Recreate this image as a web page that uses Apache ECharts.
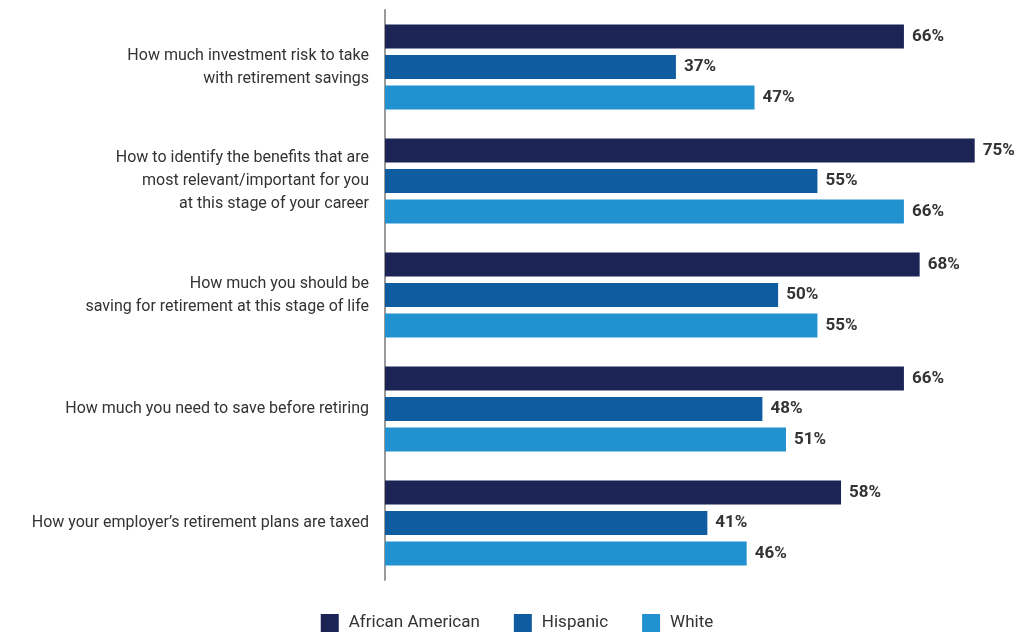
<!DOCTYPE html>
<html>
<head>
<meta charset="utf-8">
<script src="https://cdn.jsdelivr.net/npm/echarts@6/dist/echarts.min.js"></script>
<style>
  html, body { margin: 0; padding: 0; background: #fff; }
  #chart { width: 1034px; height: 637px; }
</style>
</head>
<body>
<div id="chart"></div>
<script>
// Topics asked about, top to bottom
const categories = [
  "How much investment risk to take\nwith retirement savings",
  "How to identify the benefits that are\nmost relevant/important for you\nat this stage of your career",
  "How much you should be\nsaving for retirement at this stage of life",
  "How much you need to save before retiring",
  "How your employer\u2019s retirement plans are taxed"
];
const seriesNames = ["African American", "Hispanic", "White"];
const africanAmerican = [66, 75, 68, 66, 58];
const hispanic = [37, 55, 50, 48, 41];
const white = [47, 66, 55, 51, 46];

const colors = ["#1b2455", "#0f5ca0", "#2291d0"];
const font = "'Liberation Sans Narrow', 'Roboto', 'Noto Sans', sans-serif";

const chart = echarts.init(document.getElementById("chart"));

function barSeries(name, data, color) {
  return {
    name: name,
    type: "bar",
    data: data,
    barWidth: 24,
    barGap: "27%",
    itemStyle: { color: color },
    label: {
      show: true,
      position: "right",
      distance: 8,
      formatter: "{c}%",
      color: "#333",
      fontFamily: font,
      fontWeight: "bold",
      fontSize: 17
    }
  };
}

chart.setOption({
  animation: false,
  textStyle: { fontFamily: font },
  grid: {
    left: 385, right: 20, top: 10, bottom: 57,
    containLabel: false,
    outerBoundsMode: "none"
  },
  legend: {
    top: 609,
    left: "center",
    itemWidth: 18,
    itemHeight: 18,
    itemGap: 34,
    icon: "rect",
    textStyle: { fontFamily: font, fontSize: 17, color: "#333", padding: [0, 0, 0, 5] },
    data: seriesNames
  },
  xAxis: {
    type: "value",
    min: 0,
    max: 80,
    show: false
  },
  yAxis: {
    type: "category",
    inverse: true,
    data: categories,
    axisLine: { show: true, lineStyle: { color: "#9a9a9a", width: 2 } },
    axisTick: { show: false },
    axisLabel: {
      margin: 16,
      color: "#333",
      fontFamily: font,
      fontSize: 16,
      lineHeight: 23,
      padding: [4, 0, 0, 0],
      align: "right"
    }
  },
  series: [
    barSeries(seriesNames[0], africanAmerican, colors[0]),
    barSeries(seriesNames[1], hispanic, colors[1]),
    barSeries(seriesNames[2], white, colors[2])
  ]
});
</script>
</body>
</html>
